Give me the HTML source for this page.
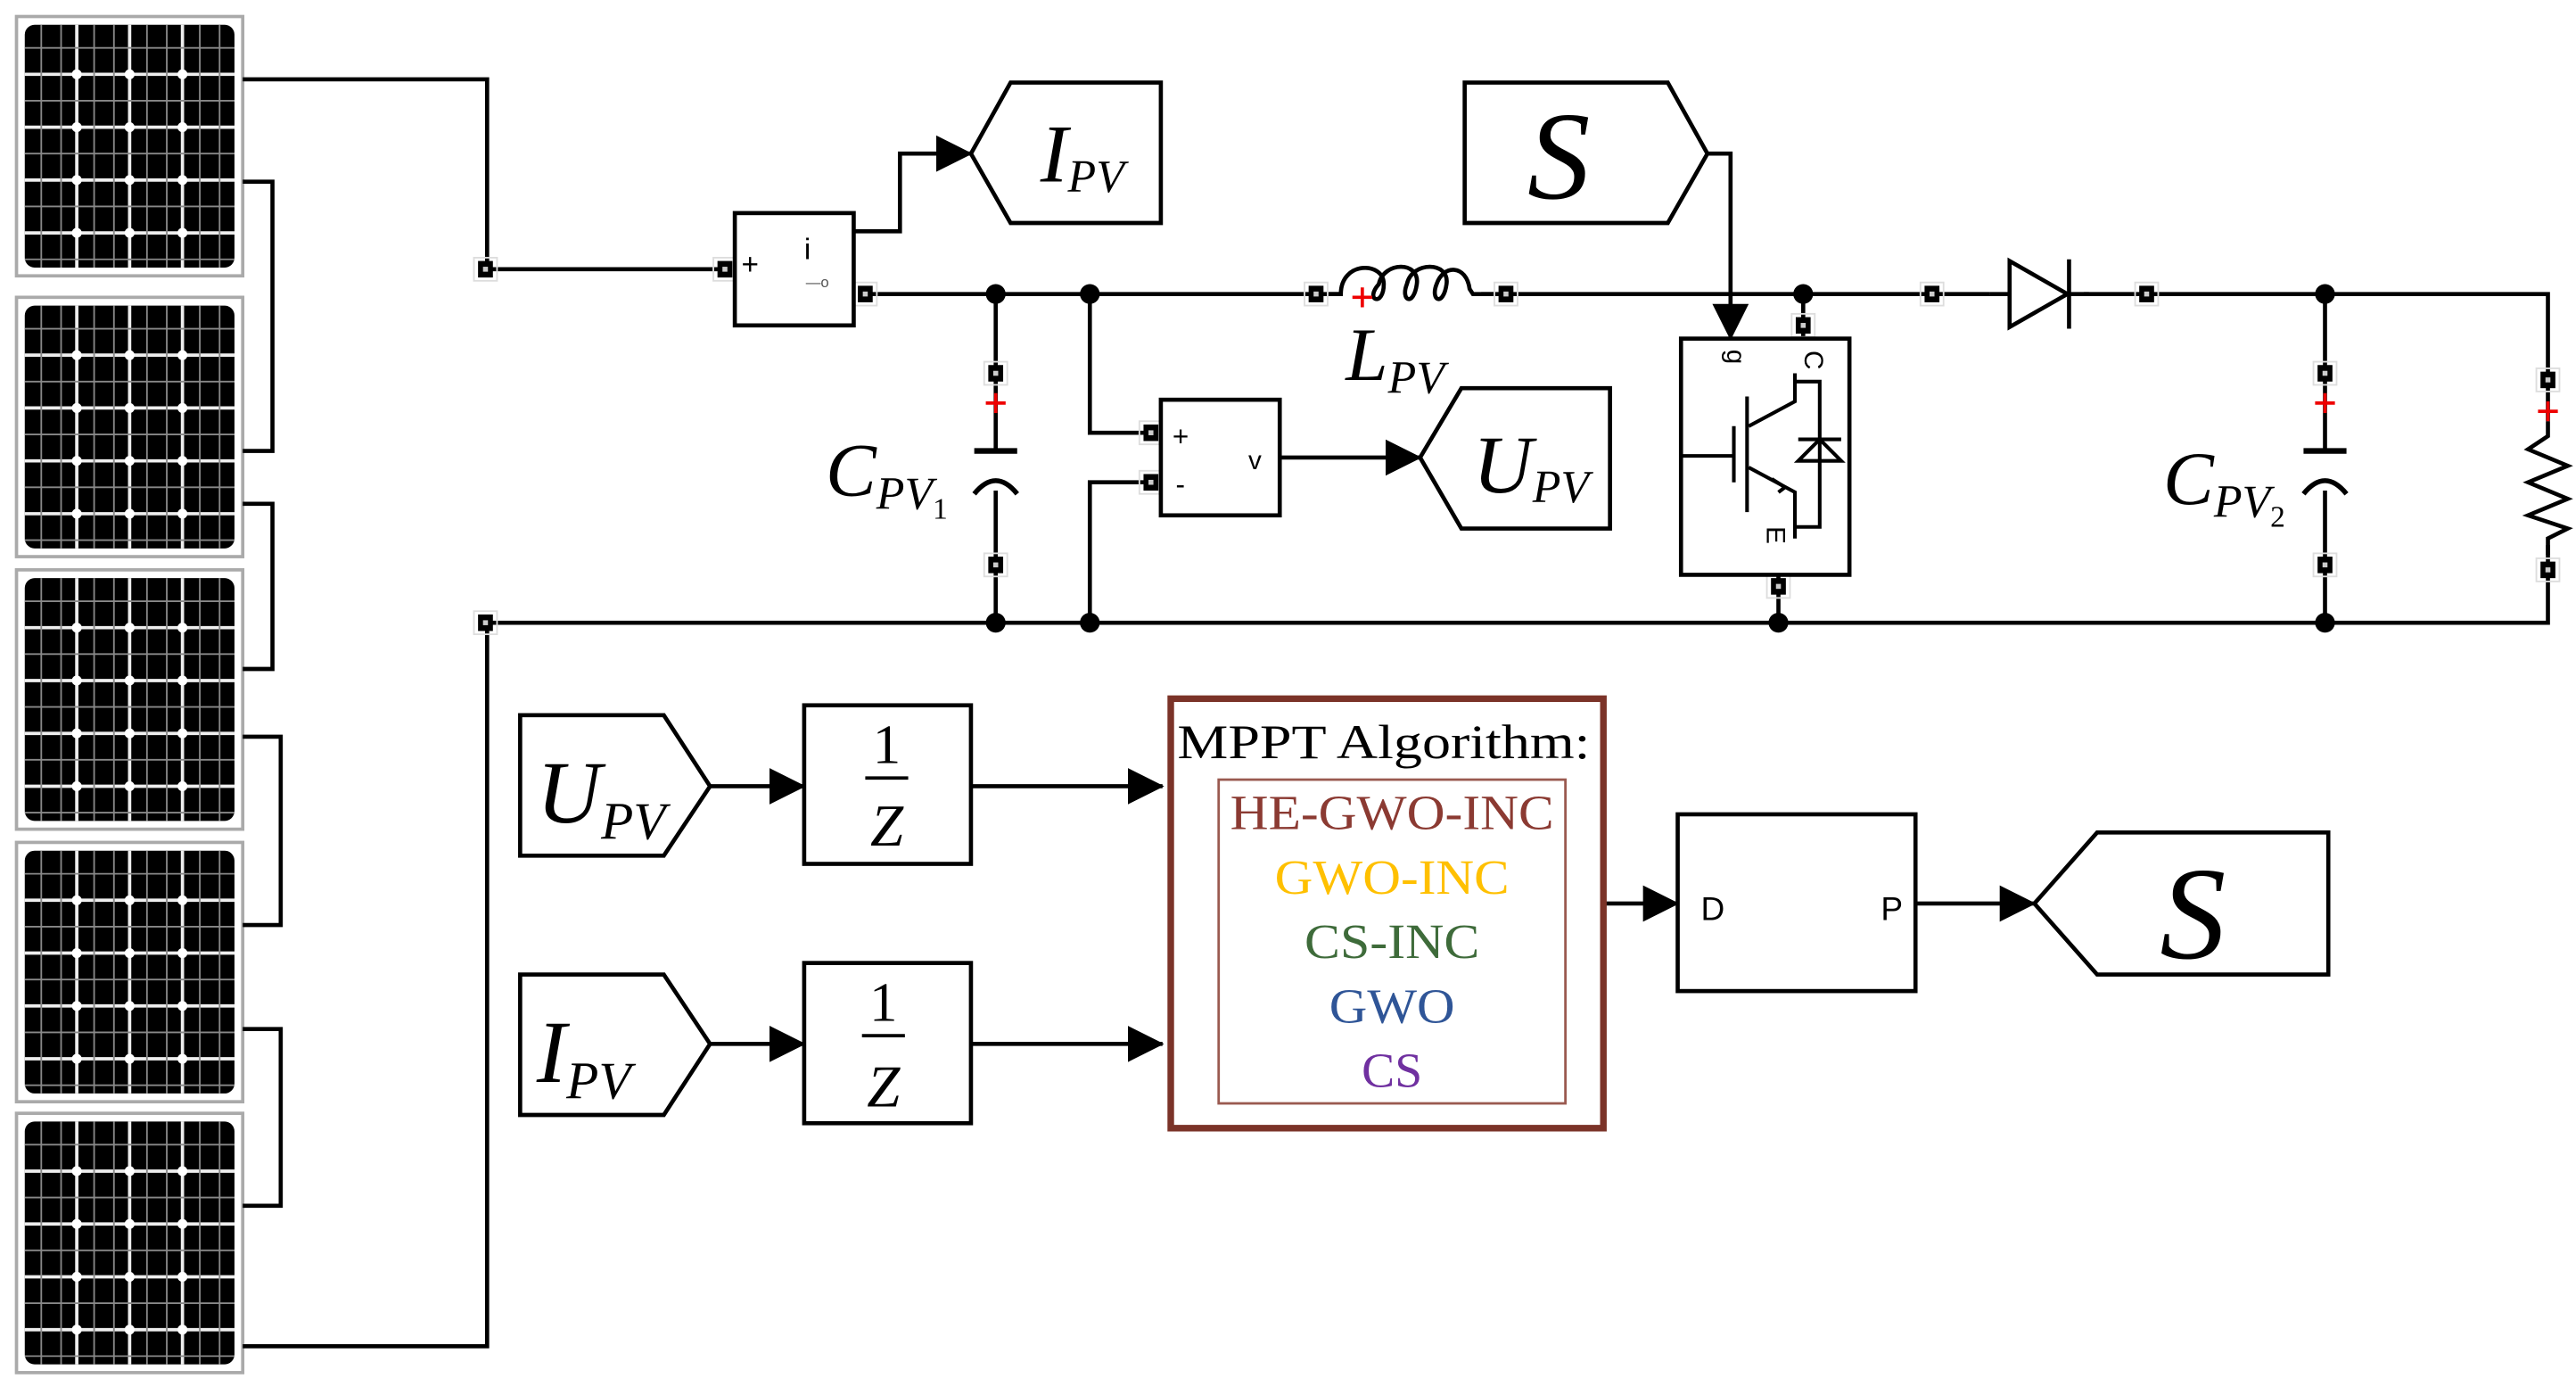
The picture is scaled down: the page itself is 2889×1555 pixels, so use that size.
<!DOCTYPE html>
<html><head><meta charset="utf-8"><style>html,body{margin:0;padding:0;background:#fff}svg{display:block}</style></head>
<body>
<svg xmlns="http://www.w3.org/2000/svg" width="2889" height="1555" viewBox="0 0 1560 839.7" preserveAspectRatio="none" font-family="'Liberation Serif', serif">
<defs>
<g id="panel">
<rect x="0" y="0" width="137" height="157" fill="#fff" stroke="#aaa" stroke-width="2"/>
<rect x="5" y="5" width="127" height="147" rx="6" fill="#000"/>
<g stroke="#eee" stroke-width="2">
<line x1="36.5" y1="5" x2="36.5" y2="152"/><line x1="68.5" y1="5" x2="68.5" y2="152"/><line x1="100.5" y1="5" x2="100.5" y2="152"/>
<line x1="5" y1="35" x2="132" y2="35"/><line x1="5" y1="67" x2="132" y2="67"/><line x1="5" y1="99" x2="132" y2="99"/><line x1="5" y1="131" x2="132" y2="131"/>
</g>
<g stroke="#888" stroke-width="1">
<line x1="15" y1="5" x2="15" y2="152"/><line x1="27" y1="5" x2="27" y2="152"/><line x1="47" y1="5" x2="47" y2="152"/><line x1="59" y1="5" x2="59" y2="152"/><line x1="79" y1="5" x2="79" y2="152"/><line x1="91" y1="5" x2="91" y2="152"/><line x1="111" y1="5" x2="111" y2="152"/><line x1="123" y1="5" x2="123" y2="152"/>
<line x1="5" y1="19" x2="132" y2="19"/><line x1="5" y1="51" x2="132" y2="51"/><line x1="5" y1="83" x2="132" y2="83"/><line x1="5" y1="115" x2="132" y2="115"/><line x1="5" y1="147" x2="132" y2="147"/>
</g>
<g fill="#fff">
<circle cx="36.5" cy="35" r="3"/><circle cx="68.5" cy="35" r="3"/><circle cx="100.5" cy="35" r="3"/>
<circle cx="36.5" cy="67" r="3"/><circle cx="68.5" cy="67" r="3"/><circle cx="100.5" cy="67" r="3"/>
<circle cx="36.5" cy="99" r="3"/><circle cx="68.5" cy="99" r="3"/><circle cx="100.5" cy="99" r="3"/>
<circle cx="36.5" cy="131" r="3"/><circle cx="68.5" cy="131" r="3"/><circle cx="100.5" cy="131" r="3"/>
</g>
</g>
<g id="port"><rect x="-7" y="-7" width="14" height="14" fill="none" stroke="#ddd" stroke-width="1"/><rect x="-4.5" y="-5" width="9" height="10" fill="#000"/><rect x="-1.5" y="-1.5" width="3" height="3" fill="#ccc"/></g>
<marker id="ab" markerWidth="22" markerHeight="22" refX="21" refY="11" orient="auto" markerUnits="userSpaceOnUse"><path d="M0,0 L22,11 L0,22 z" fill="#000"/></marker>
</defs>

<use href="#panel" x="10" y="10"/>
<use href="#panel" x="10" y="180"/>
<use href="#panel" x="10" y="345"/>
<use href="#panel" x="10" y="510"/>
<use href="#panel" x="10" y="674"/>

<g fill="none" stroke="#000" stroke-width="2.5">
<polyline points="147,110 165,110 165,273 147,273"/>
<polyline points="147,305 165,305 165,405 147,405"/>
<polyline points="147,446 170,446 170,560 147,560"/>
<polyline points="147,623 170,623 170,730 147,730"/>
<polyline points="147,48 295,48 295,163 437,163"/>
<polyline points="147,815 295,815 295,377 1543,377 1543,178 525,178"/>
<polyline points="517,140 545,140 545,93 588,93" marker-end="url(#ab)"/>
<line x1="603" y1="178" x2="603" y2="272"/>
<line x1="603" y1="297" x2="603" y2="377"/>
<polyline points="660,178 660,262 697,262"/>
<polyline points="660,377 660,292 697,292"/>
<line x1="775" y1="277" x2="860" y2="277" marker-end="url(#ab)"/>
<polyline points="1034,93 1048,93 1048,205" marker-end="url(#ab)"/>
<line x1="1092" y1="178" x2="1092" y2="205"/>
<line x1="1077" y1="348" x2="1077" y2="377"/>
<line x1="1408" y1="178" x2="1408" y2="272"/>
<line x1="1408" y1="297" x2="1408" y2="377"/>
</g>
<rect x="812" y="160" width="85" height="25" fill="#fff"/>
<rect x="1205" y="150" width="57" height="52" fill="#fff"/>
<g fill="none" stroke="#000" stroke-width="2.5">
<path d="M805,178 H812 C812,158 838,158 838,172 C838,186 826,182 835,172 C838,158 860,158 858,172 C856,186 848,182 852,172 C855,158 878,158 876,172 C874,186 866,182 870,172 C874,160 888,160 890,175 L892,178 H905"/>
<polygon points="1217,158 1252,178 1217,198"/>
<line x1="1253" y1="157" x2="1253" y2="199"/>
<line x1="1205" y1="178" x2="1217" y2="178"/>
<line x1="1253" y1="178" x2="1265" y2="178"/>
<line x1="590" y1="273" x2="616" y2="273" stroke-width="3.5"/>
<path d="M590,299 Q603,283 616,299" stroke-width="3"/>
<line x1="1395" y1="273" x2="1421" y2="273" stroke-width="3.5"/>
<path d="M1395,299 Q1408,283 1421,299" stroke-width="3"/>
<rect x="1530" y="255" width="26" height="75" fill="#fff" stroke="none"/>
<polyline points="1543,255 1543,264 1531,272 1555,282 1531,292 1555,302 1531,312 1555,320 1543,326 1543,336"/>
</g>
<g fill="#000">
<circle cx="603" cy="178" r="6"/><circle cx="660" cy="178" r="6"/><circle cx="1092" cy="178" r="6"/><circle cx="1408" cy="178" r="6"/>
<circle cx="603" cy="377" r="6"/><circle cx="660" cy="377" r="6"/><circle cx="1077" cy="377" r="6"/><circle cx="1408" cy="377" r="6"/>
</g>
<use href="#port" x="294" y="163"/><use href="#port" x="294" y="377"/><use href="#port" x="439" y="163"/><use href="#port" x="524" y="178"/>
<use href="#port" x="797" y="178"/><use href="#port" x="912" y="178"/><use href="#port" x="1170" y="178"/><use href="#port" x="1300" y="178"/>
<use href="#port" x="603" y="226"/><use href="#port" x="603" y="342"/><use href="#port" x="1092" y="197"/><use href="#port" x="1077" y="355"/>
<use href="#port" x="1408" y="226"/><use href="#port" x="1408" y="342"/><use href="#port" x="1543" y="230"/><use href="#port" x="1543" y="345"/>
<use href="#port" x="697" y="262"/><use href="#port" x="697" y="292"/>
<g stroke="#e00" stroke-width="2"><path d="M597,244h12M603,238v12"/><path d="M1402,244h12M1408,238v12"/><path d="M1537,249h12M1543,243v12"/><path d="M819,180h12M825,174v12"/></g>

<rect x="445" y="129" width="72" height="68" fill="#fff" stroke="#000" stroke-width="2.5"/>
<text x="449" y="166" font-family="'Liberation Sans', sans-serif" font-size="18">+</text>
<text x="487" y="157" font-family="'Liberation Sans', sans-serif" font-size="18">i</text>
<text x="488" y="174" font-family="'Liberation Sans', sans-serif" font-size="9" fill="#555">—o</text>
<rect x="703" y="242" width="72" height="70" fill="#fff" stroke="#000" stroke-width="2.5"/>
<text x="710" y="270" font-family="'Liberation Sans', sans-serif" font-size="17">+</text>
<text x="712" y="299" font-family="'Liberation Sans', sans-serif" font-size="17">-</text>
<text x="756" y="284" font-family="'Liberation Sans', sans-serif" font-size="16">v</text>

<rect x="1018" y="205" width="102" height="143" fill="#fff" stroke="#000" stroke-width="2.5"/>
<g fill="none" stroke="#000" stroke-width="2.2">
<line x1="1018" y1="276" x2="1050" y2="276"/>
<line x1="1050" y1="258" x2="1050" y2="292"/>
<line x1="1058" y1="240" x2="1058" y2="310"/>
<polyline points="1059,258 1087,243 1087,226"/>
<polyline points="1059,283 1087,298 1087,326"/>
<polyline points="1087,231 1102,231 1102,319 1087,319"/>
<polygon points="1089,279 1115,279 1102,266"/>
<line x1="1089" y1="266" x2="1115" y2="266"/>
<path d="M1073,290 l8,5 -4,3"/>
</g>
<text x="1046" y="216" font-family="'Liberation Sans', sans-serif" font-size="16" transform="rotate(90 1046 216)" text-anchor="middle">g</text>
<text x="1093" y="218" font-family="'Liberation Sans', sans-serif" font-size="16" transform="rotate(90 1093 218)" text-anchor="middle">C</text>
<text x="1070" y="324" font-family="'Liberation Sans', sans-serif" font-size="16" transform="rotate(90 1070 324)" text-anchor="middle">E</text>

<text x="500" y="300" font-size="46" font-style="italic">C<tspan font-size="28" dy="8">PV</tspan><tspan font-size="18" dy="6" font-style="normal">1</tspan></text>
<text x="815" y="230" font-size="46" font-style="italic">L<tspan font-size="28" dy="8">PV</tspan></text>
<text x="1310" y="305" font-size="46" font-style="italic">C<tspan font-size="28" dy="8">PV</tspan><tspan font-size="18" dy="6" font-style="normal">2</tspan></text>

<g fill="#fff" stroke="#000" stroke-width="2.5">
<polygon points="588,93 612,50 703,50 703,135 612,135"/>
<polygon points="860,277 885,235 975,235 975,320 885,320"/>
<polygon points="887,50 1010,50 1034,93 1010,135 887,135"/>
<polygon points="315,433 402,433 430,476 402,518 315,518"/>
<polygon points="315,590 402,590 430,632 402,675 315,675"/>
<polygon points="1232,547 1270,504 1410,504 1410,590 1270,590"/>
</g>
<text x="630" y="110" font-size="50" font-style="italic">I<tspan font-size="28" dy="6">PV</tspan></text>
<text x="892" y="298" font-size="50" font-style="italic">U<tspan font-size="28" dy="6">PV</tspan></text>
<text x="925" y="120" font-size="76" font-style="italic">S</text>
<text x="325" y="498" font-size="54" font-style="italic">U<tspan font-size="32" dy="10">PV</tspan></text>
<text x="325" y="655" font-size="54" font-style="italic">I<tspan font-size="32" dy="10">PV</tspan></text>
<text x="1308" y="580" font-size="80" font-style="italic">S</text>

<g fill="#fff" stroke="#000" stroke-width="2.5">
<rect x="487" y="427" width="101" height="96"/>
<rect x="487" y="583" width="101" height="97"/>
</g>
<g stroke="#000" stroke-width="2.5" fill="none">
<line x1="430" y1="476" x2="487" y2="476" marker-end="url(#ab)"/>
<line x1="430" y1="632" x2="487" y2="632" marker-end="url(#ab)"/>
<line x1="588" y1="476" x2="704" y2="476" marker-end="url(#ab)"/>
<line x1="588" y1="632" x2="704" y2="632" marker-end="url(#ab)"/>
<line x1="524" y1="471" x2="550" y2="471" stroke-width="2"/>
<line x1="522" y1="627" x2="548" y2="627" stroke-width="2"/>
<line x1="972" y1="547" x2="1016" y2="547" marker-end="url(#ab)"/>
<line x1="1160" y1="547" x2="1232" y2="547" marker-end="url(#ab)"/>
</g>
<text x="537" y="462" font-size="34" text-anchor="middle">1</text>
<text x="537" y="512" font-size="36" font-style="italic" text-anchor="middle">Z</text>
<text x="535" y="618" font-size="34" text-anchor="middle">1</text>
<text x="535" y="670" font-size="36" font-style="italic" text-anchor="middle">Z</text>

<rect x="709" y="423" width="262" height="260" fill="#fff" stroke="#7b3328" stroke-width="4"/>
<rect x="738" y="472" width="210" height="196" fill="none" stroke="#9a5a50" stroke-width="1.5"/>
<text x="713" y="459" font-size="29" textLength="250" lengthAdjust="spacingAndGlyphs">MPPT  Algorithm:</text>
<g font-size="30" text-anchor="middle">
<text x="843" y="502" fill="#8b3a32" textLength="196" lengthAdjust="spacingAndGlyphs">HE-GWO-INC</text>
<text x="843" y="541" fill="#ffc000" textLength="142" lengthAdjust="spacingAndGlyphs">GWO-INC</text>
<text x="843" y="580" fill="#3e6b3a" textLength="106" lengthAdjust="spacingAndGlyphs">CS-INC</text>
<text x="843" y="619" fill="#2f5597" textLength="76" lengthAdjust="spacingAndGlyphs">GWO</text>
<text x="843" y="658" fill="#7030a0">CS</text>
</g>

<rect x="1016" y="493" width="144" height="107" fill="#fff" stroke="#000" stroke-width="2.5"/>
<text x="1030" y="557" font-family="'Liberation Sans', sans-serif" font-size="20">D</text>
<text x="1139" y="557" font-family="'Liberation Sans', sans-serif" font-size="20">P</text>
</svg>
</body></html>
